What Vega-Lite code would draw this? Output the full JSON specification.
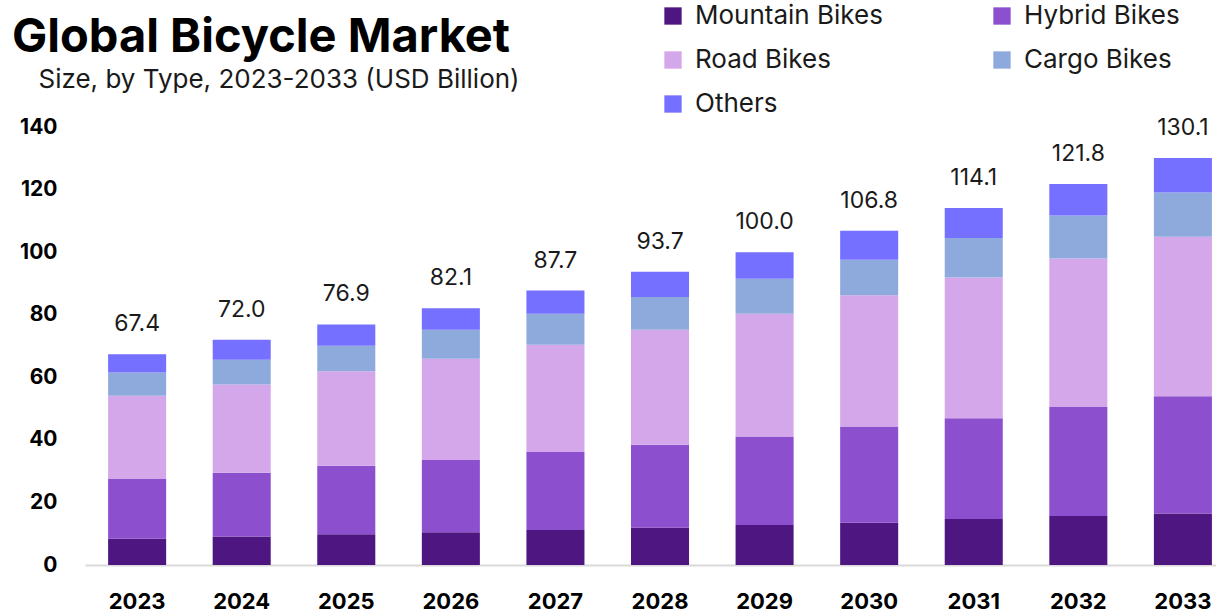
{
  "$schema": "https://vega.github.io/schema/vega-lite/v6.json",
  "width": 1131,
  "height": 438,
  "autosize": {"type": "none"},
  "padding": {"left": 85, "top": 127, "right": 0, "bottom": 50},
  "background": "white",
  "config": {"view": {"stroke": null}, "font": "Inter"},
  "title": {
    "text": "Global Bicycle Market",
    "anchor": "start",
    "frame": "group",
    "dx": -73,
    "dy": 59,
    "offset": 0,
    "font": "Inter",
    "fontSize": 47,
    "fontWeight": "bold",
    "color": "#000000"
  },
  "datasets": {
    "seg": [
      {"year": "2023", "type": "Mountain Bikes", "value": 8.4, "rank": 1},
      {"year": "2023", "type": "Hybrid Bikes", "value": 19.1, "rank": 2},
      {"year": "2023", "type": "Road Bikes", "value": 26.6, "rank": 3},
      {"year": "2023", "type": "Cargo Bikes", "value": 7.4, "rank": 4},
      {"year": "2023", "type": "Others", "value": 5.9, "rank": 5},
      {"year": "2024", "type": "Mountain Bikes", "value": 9.1, "rank": 1},
      {"year": "2024", "type": "Hybrid Bikes", "value": 20.4, "rank": 2},
      {"year": "2024", "type": "Road Bikes", "value": 28.2, "rank": 3},
      {"year": "2024", "type": "Cargo Bikes", "value": 7.9, "rank": 4},
      {"year": "2024", "type": "Others", "value": 6.4, "rank": 5},
      {"year": "2025", "type": "Mountain Bikes", "value": 9.8, "rank": 1},
      {"year": "2025", "type": "Hybrid Bikes", "value": 21.9, "rank": 2},
      {"year": "2025", "type": "Road Bikes", "value": 30.2, "rank": 3},
      {"year": "2025", "type": "Cargo Bikes", "value": 8.2, "rank": 4},
      {"year": "2025", "type": "Others", "value": 6.8, "rank": 5},
      {"year": "2026", "type": "Mountain Bikes", "value": 10.5, "rank": 1},
      {"year": "2026", "type": "Hybrid Bikes", "value": 23.1, "rank": 2},
      {"year": "2026", "type": "Road Bikes", "value": 32.3, "rank": 3},
      {"year": "2026", "type": "Cargo Bikes", "value": 9.3, "rank": 4},
      {"year": "2026", "type": "Others", "value": 6.9, "rank": 5},
      {"year": "2027", "type": "Mountain Bikes", "value": 11.2, "rank": 1},
      {"year": "2027", "type": "Hybrid Bikes", "value": 24.9, "rank": 2},
      {"year": "2027", "type": "Road Bikes", "value": 34.3, "rank": 3},
      {"year": "2027", "type": "Cargo Bikes", "value": 9.9, "rank": 4},
      {"year": "2027", "type": "Others", "value": 7.4, "rank": 5},
      {"year": "2028", "type": "Mountain Bikes", "value": 11.9, "rank": 1},
      {"year": "2028", "type": "Hybrid Bikes", "value": 26.5, "rank": 2},
      {"year": "2028", "type": "Road Bikes", "value": 36.8, "rank": 3},
      {"year": "2028", "type": "Cargo Bikes", "value": 10.5, "rank": 4},
      {"year": "2028", "type": "Others", "value": 8.0, "rank": 5},
      {"year": "2029", "type": "Mountain Bikes", "value": 12.8, "rank": 1},
      {"year": "2029", "type": "Hybrid Bikes", "value": 28.3, "rank": 2},
      {"year": "2029", "type": "Road Bikes", "value": 39.2, "rank": 3},
      {"year": "2029", "type": "Cargo Bikes", "value": 11.2, "rank": 4},
      {"year": "2029", "type": "Others", "value": 8.5, "rank": 5},
      {"year": "2030", "type": "Mountain Bikes", "value": 13.5, "rank": 1},
      {"year": "2030", "type": "Hybrid Bikes", "value": 30.8, "rank": 2},
      {"year": "2030", "type": "Road Bikes", "value": 41.9, "rank": 3},
      {"year": "2030", "type": "Cargo Bikes", "value": 11.4, "rank": 4},
      {"year": "2030", "type": "Others", "value": 9.2, "rank": 5},
      {"year": "2031", "type": "Mountain Bikes", "value": 14.7, "rank": 1},
      {"year": "2031", "type": "Hybrid Bikes", "value": 32.2, "rank": 2},
      {"year": "2031", "type": "Road Bikes", "value": 45.0, "rank": 3},
      {"year": "2031", "type": "Cargo Bikes", "value": 12.6, "rank": 4},
      {"year": "2031", "type": "Others", "value": 9.6, "rank": 5},
      {"year": "2032", "type": "Mountain Bikes", "value": 15.7, "rank": 1},
      {"year": "2032", "type": "Hybrid Bikes", "value": 34.8, "rank": 2},
      {"year": "2032", "type": "Road Bikes", "value": 47.5, "rank": 3},
      {"year": "2032", "type": "Cargo Bikes", "value": 13.7, "rank": 4},
      {"year": "2032", "type": "Others", "value": 10.1, "rank": 5},
      {"year": "2033", "type": "Mountain Bikes", "value": 16.5, "rank": 1},
      {"year": "2033", "type": "Hybrid Bikes", "value": 37.4, "rank": 2},
      {"year": "2033", "type": "Road Bikes", "value": 51.0, "rank": 3},
      {"year": "2033", "type": "Cargo Bikes", "value": 14.2, "rank": 4},
      {"year": "2033", "type": "Others", "value": 11.0, "rank": 5}
    ],
    "tot": [
      {"year": "2023", "total": 67.4},
      {"year": "2024", "total": 72.0},
      {"year": "2025", "total": 76.9},
      {"year": "2026", "total": 82.1},
      {"year": "2027", "total": 87.7},
      {"year": "2028", "total": 93.7},
      {"year": "2029", "total": 100.0},
      {"year": "2030", "total": 106.8},
      {"year": "2031", "total": 114.1},
      {"year": "2032", "total": 121.8},
      {"year": "2033", "total": 130.1}
    ]
  },
  "layer": [
    {
      "data": {"name": "seg"},
      "mark": {"type": "bar"},
      "encoding": {
        "x": {
          "field": "year",
          "type": "ordinal",
          "scale": {"paddingInner": 0.445, "paddingOuter": 0.13, "align": 0.85},
          "axis": {
            "title": null,
            "labelAngle": 0,
            "ticks": false,
            "domainColor": "#d9d9d9",
            "domainWidth": 2,
            "labelFont": "Inter",
            "labelFontSize": 22,
            "labelFontWeight": "bold",
            "labelColor": "#000000",
            "labelPadding": 26
          }
        },
        "y": {
          "field": "value",
          "type": "quantitative",
          "stack": "zero",
          "scale": {"domain": [0, 140], "nice": false},
          "axis": {
            "title": "Size, by Type, 2023-2033 (USD Billion)",
            "titleAngle": 0,
            "titleAlign": "left",
            "titleBaseline": "alphabetic",
            "titleX": -47,
            "titleY": -40,
            "titleFont": "Inter",
            "titleFontSize": 26,
            "titleFontWeight": "normal",
            "titleColor": "#1a1a1a",
            "values": [0, 20, 40, 60, 80, 100, 120, 140],
            "domain": false,
            "ticks": false,
            "grid": false,
            "labelFont": "Inter",
            "labelFontSize": 21,
            "labelFontWeight": "bold",
            "labelColor": "#000000",
            "labelPadding": 28
          }
        },
        "color": {
          "field": "type",
          "type": "nominal",
          "scale": {
            "domain": ["Mountain Bikes", "Hybrid Bikes", "Road Bikes", "Cargo Bikes", "Others"],
            "range": ["#4e1680", "#8c4fcd", "#d4a7eb", "#8eaadc", "#7570ff"]
          },
          "legend": {
            "orient": "none",
            "legendX": 575,
            "legendY": -124,
            "columns": 2,
            "direction": "horizontal",
            "title": null,
            "padding": 0,
            "symbolType": "square",
            "symbolSize": 300,
            "symbolStrokeWidth": 0,
            "labelFont": "Inter",
            "labelFontSize": 26,
            "labelColor": "#1a1a1a",
            "labelOffset": 9,
            "columnPadding": 106,
            "rowPadding": 18,
            "labelLimit": 300
          }
        },
        "order": {"field": "rank", "type": "quantitative"}
      }
    },
    {
      "data": {"name": "tot"},
      "mark": {"type": "text", "baseline": "alphabetic", "dy": -23, "fontSize": 23, "font": "Inter", "color": "#1a1a1a"},
      "encoding": {
        "x": {"field": "year", "type": "ordinal"},
        "y": {"field": "total", "type": "quantitative"},
        "text": {"field": "total", "type": "quantitative", "format": ".1f"}
      }
    }
  ]
}
